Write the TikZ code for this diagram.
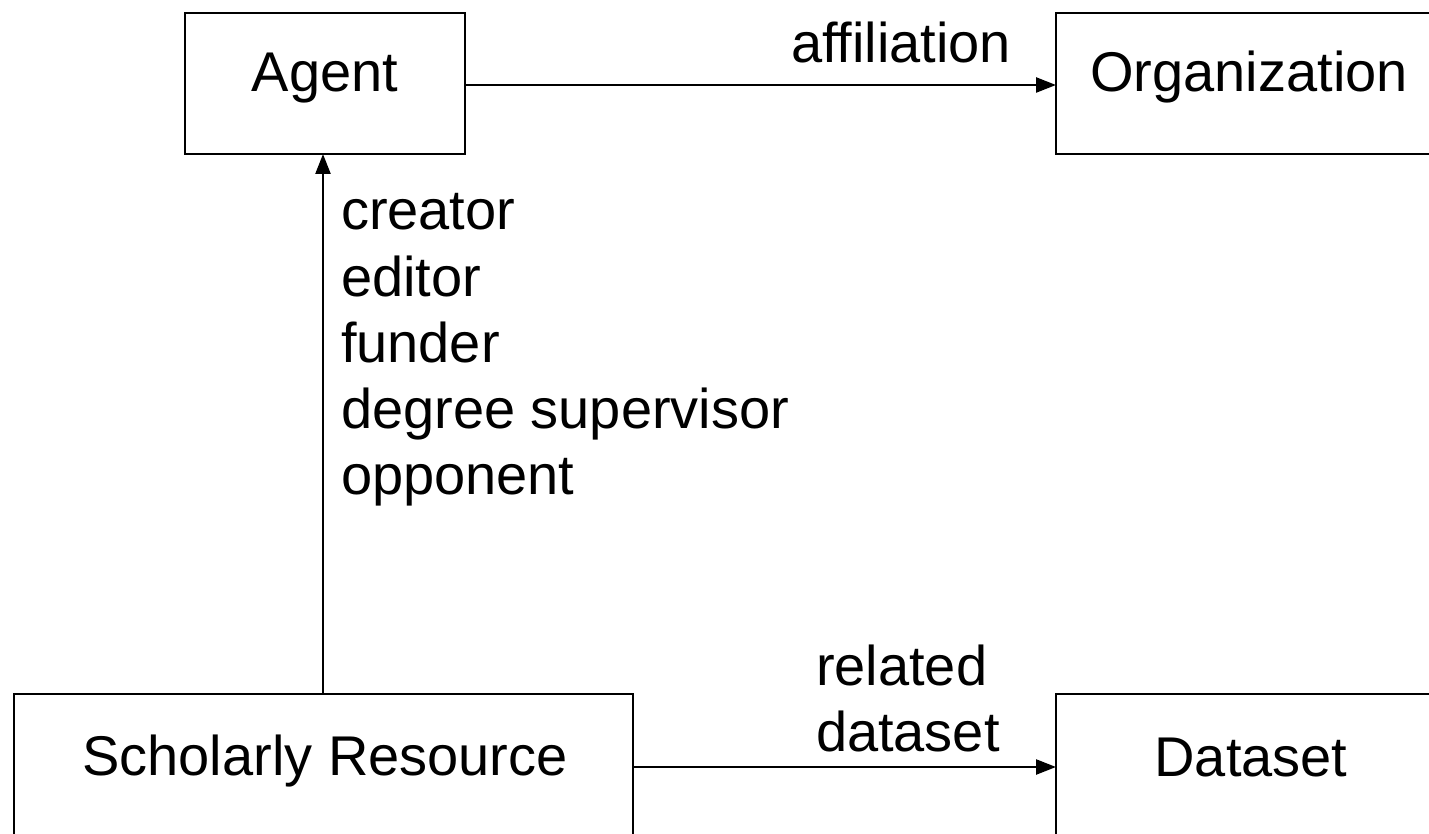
\documentclass[tikz,border=0pt]{standalone}
\usepackage{fontspec}
\setmainfont{Liberation Sans}
\usetikzlibrary{arrows.meta}
\begin{document}
\begin{tikzpicture}[x=1pt,y=-1pt,
  box/.style={draw=black,line width=2.6pt,inner sep=0pt,outer sep=0pt},
  lbl/.style={inner sep=0pt,outer sep=0pt,font=\fontsize{56}{66}\selectfont},
  conn/.style={line width=2.4pt,-{Triangle[length=20pt,width=15pt]}}]
\useasboundingbox (0,0) rectangle (1429,834);
% boxes
\node[box,minimum width=280pt,minimum height=141pt] (agent) at (325,83.5) {};
\node[box,minimum width=400pt,minimum height=141pt] (org) at (1256,83.5) {};
\node[box,minimum width=619pt,minimum height=180pt] (sr) at (323.5,784) {};
\node[box,minimum width=400pt,minimum height=180pt] (ds) at (1256,784) {};
% box texts
\node[lbl,anchor=base] (agentT) at (325,92) {Agent};
\node[lbl,anchor=base] (orgT) at (1249,92) {Organization};
\node[lbl,anchor=base] (srT) at (325,775) {Scholarly Resource};
\node[lbl,anchor=base] (dsT) at (1251,776) {Dataset};
% connectors
\coordinate (a1) at (agent.east |- 0,85);
\coordinate (o1) at (org.west |- 0,85);
\draw[conn] (a1) -- (o1);
\coordinate (s1) at (323,0);
\draw[conn] (s1 |- sr.north) -- (s1 |- agent.south);
\coordinate (s2) at (sr.east |- 0,767);
\coordinate (d2) at (ds.west |- 0,767);
\draw[conn] (s2) -- (d2);
% connector labels
\node[lbl,anchor=base west] (aff) at (791,63) {affiliation};
\node[lbl,anchor=base west] (roles1) at (341,230) {creator};
\node[lbl,anchor=base west] (roles2) at (341,296) {editor};
\node[lbl,anchor=base west] (roles3) at (341,362) {funder};
\node[lbl,anchor=base west] (roles4) at (341,428) {degree supervisor};
\node[lbl,anchor=base west] (roles5) at (341,494) {opponent};
\node[lbl,anchor=base west] (rel1) at (816,685) {related};
\node[lbl,anchor=base west] (rel2) at (816,751) {dataset};
\end{tikzpicture}
\end{document}
